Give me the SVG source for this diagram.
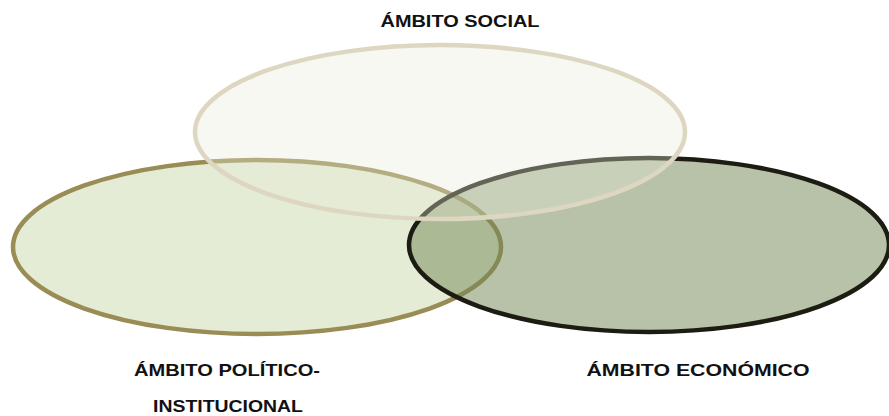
<svg xmlns="http://www.w3.org/2000/svg" width="889" height="416" viewBox="0 0 889 416">
<style>
.lbl{font-family:"Liberation Sans",Arial,sans-serif;font-weight:bold;font-size:16.5px;fill:#111;text-anchor:middle}
</style>
<rect width="889" height="416" fill="#fff"/>
<g id="politico">
<ellipse cx="257" cy="247" rx="244" ry="87" fill="#e4ecd5" stroke="#998d55" stroke-width="4.5"/>
<text class="lbl" x="227" y="376" textLength="186" lengthAdjust="spacingAndGlyphs">ÁMBITO POLÍTICO-</text>
<text class="lbl" x="228" y="412" textLength="150" lengthAdjust="spacingAndGlyphs">INSTITUCIONAL</text>
</g>
<g id="economico">
<ellipse cx="649" cy="245" rx="240" ry="87" fill="#718553" fill-opacity="0.5" stroke="#1c1c12" stroke-width="4.5"/>
<text class="lbl" x="698" y="376" textLength="223" lengthAdjust="spacingAndGlyphs">ÁMBITO ECONÓMICO</text>
</g>
<g id="social">
<ellipse cx="440" cy="132" rx="245" ry="87" fill="#e8ebd7" fill-opacity="0.35" stroke="#ddd7c2" stroke-width="4.5"/>
<text class="lbl" x="460" y="27" textLength="159" lengthAdjust="spacingAndGlyphs">ÁMBITO SOCIAL</text>
</g>
<g id="connectors"/>
</svg>
